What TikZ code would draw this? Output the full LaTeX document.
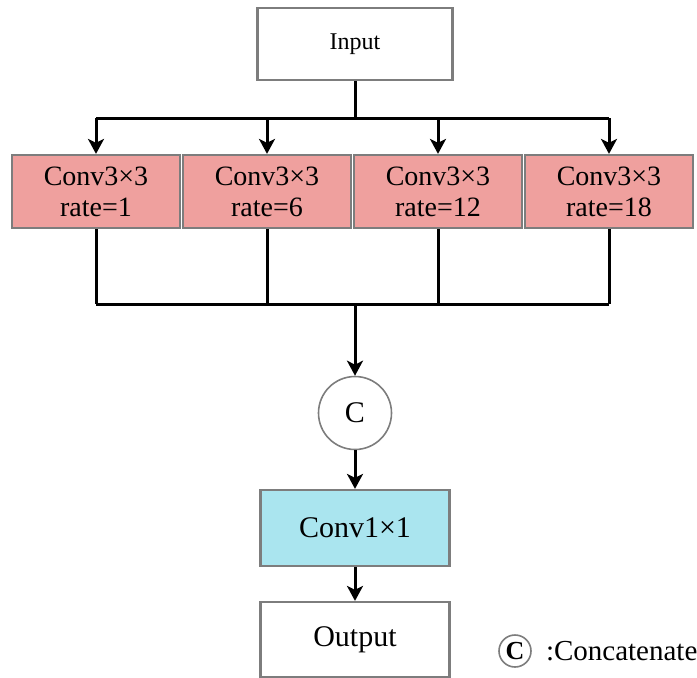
\documentclass[tikz,border=0pt]{standalone}
\usepackage{fontspec}
\setmainfont{Liberation Serif}
\usetikzlibrary{arrows.meta,calc}

\definecolor{convred}{RGB}{239,160,158}
\definecolor{convcyan}{RGB}{170,229,239}
\definecolor{boxgray}{RGB}{125,125,125}

\begin{document}
\begin{tikzpicture}[x=1pt,y=1pt,
  box/.style={draw=boxgray,line width=2.2pt,fill=white,inner sep=0pt,align=center},
  arr/.style={line width=3pt,-{Stealth[length=15pt,width=16pt,inset=4pt]}},
  wire/.style={line width=3pt}]
\useasboundingbox (0,0) rectangle (697,-678);
% input and the four branches
\node[box,minimum width=195pt,minimum height=72pt,font=\fontsize{24}{26}\selectfont] (in) at (355,-44) {Input};
\foreach \k/\x/\r in {1/96/1,2/267/6,3/438/12,4/609/18}{
  \node[box,fill=convred,minimum width=168pt,minimum height=73pt,
        font=\fontsize{28}{31}\selectfont] (b\k) at (\x,-191.5) {Conv3×3\\rate=\r};
}
\coordinate (top) at (355,-118);
\coordinate (bot) at (355,-304);
\draw[wire] (in.south) -- (top);
\draw[wire] (top -| b1.north) -- (top -| b4.north);
\foreach \k in {1,...,4}{\draw[arr] (top -| b\k.north) -- (b\k.north);}
% merge into the concatenation
\foreach \k in {1,...,4}{\draw[wire] (b\k.south) -- (bot -| b\k.south);}
\draw[wire] (bot -| b1.south) -- (bot -| b4.south);
\node[draw=boxgray,line width=1.6pt,circle,minimum size=73pt,inner sep=0pt,
      font=\fontsize{30}{30}\selectfont] (cat) at (355,-413) {C};
\draw[arr] (bot) -- (cat.north);
% 1x1 conv and output
\node[box,fill=convcyan,minimum width=189pt,minimum height=76pt,font=\fontsize{30}{32}\selectfont] (c1) at (355,-528) {Conv1×1};
\node[box,minimum width=189pt,minimum height=75pt,font=\fontsize{30}{32}\selectfont] (out) at (355,-639.5) {Output};
\draw[arr] (cat.south) -- (c1.north);
\draw[arr] (c1.south) -- (out.north);
% legend
\node[draw=boxgray,line width=1.6pt,circle,minimum size=32pt,inner sep=0pt,
      font=\fontsize{26}{26}\selectfont\bfseries] (key) at (515,-651) {C};
\node[anchor=west,inner sep=0pt,font=\fontsize{29}{30}\selectfont] (keytxt) at ($(key.east)+(14,0)$) {:Concatenate};
\end{tikzpicture}
\end{document}
